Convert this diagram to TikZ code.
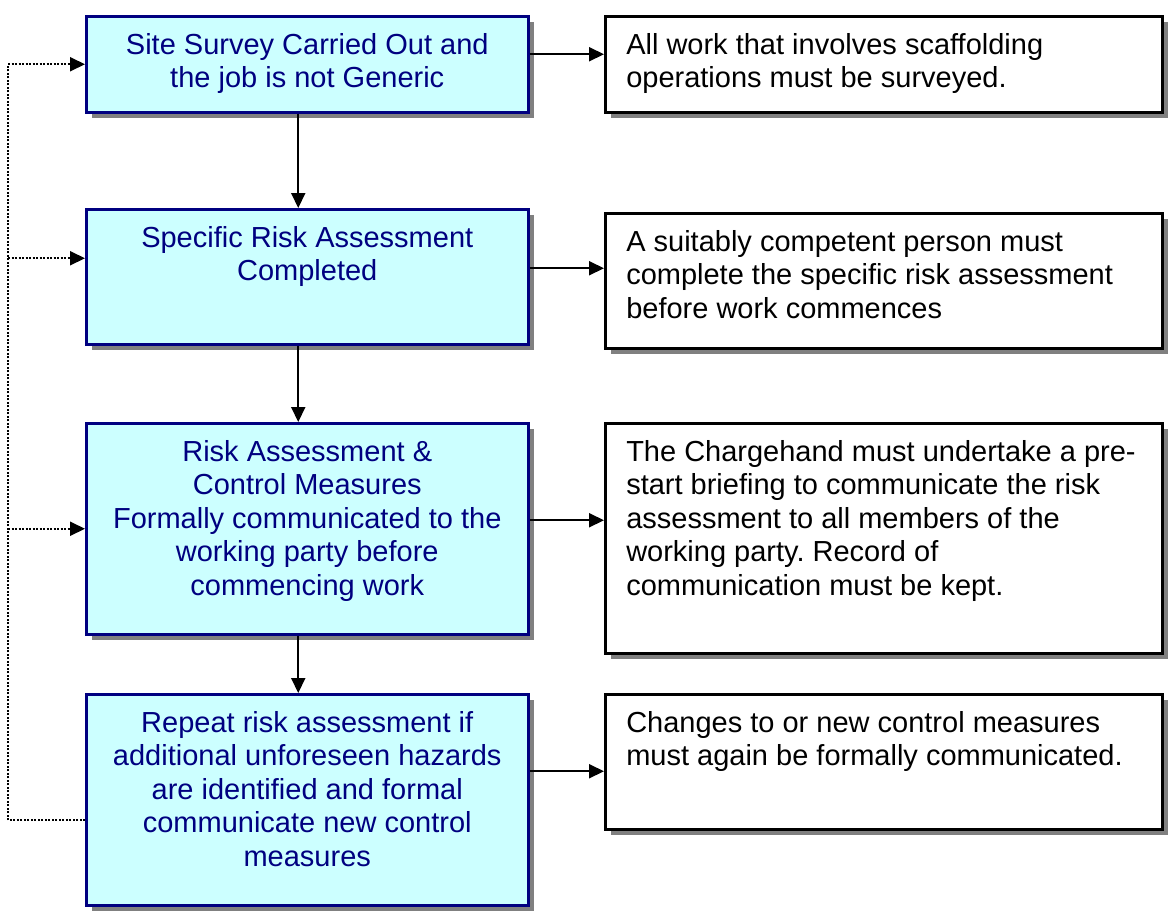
\documentclass[tikz,border=0pt]{standalone}
\usepackage{fontspec}
\setmainfont{Liberation Sans}
\usetikzlibrary{arrows.meta,shadows}
\frenchspacing

\definecolor{stagefill}{HTML}{CCFFFF}
\definecolor{stageline}{HTML}{000080}
\definecolor{shadowgrey}{HTML}{808080}

% box contents, top aligned in a box of fixed height
\newcommand{\stagetext}[2]{\begin{minipage}[c][#1][t]{442pt}\centering\vspace*{14.5pt}\strut#2\end{minipage}}
\newcommand{\notetext}[2]{\begin{minipage}[c][#1][t]{557pt}\raggedright\leftskip=21pt\vspace*{14.5pt}\strut#2\end{minipage}}

\begin{document}
\begin{tikzpicture}[x=1pt, y=-1pt]
\tikzset{
  stagebox/.style={draw=stageline, line width=2.5pt, fill=stagefill, text=stageline,
    inner sep=0pt, anchor=north west, font=\fontsize{29pt}{33.5pt}\selectfont,
    drop shadow={shadow xshift=6pt, shadow yshift=-6pt, fill=shadowgrey, opacity=1}},
  notebox/.style={stagebox, draw=black, fill=white, text=black},
  tip/.style={-{Triangle[length=15pt, width=14pt]}},
  arr/.style={tip, line width=2pt},
  loopline/.style={line width=2pt, dash pattern=on 2pt off 1.5pt},
}
\useasboundingbox (0,0) rectangle (1168,911);

% left column
\node[stagebox] (b1) at (85,15) {\stagetext{96pt}{Site Survey Carried Out and\\the job is not Generic}};
\node[stagebox] (b2) at (85,208) {\stagetext{135pt}{Specific Risk Assessment\\Completed}};
\node[stagebox] (b3) at (85,422) {\stagetext{211pt}{Risk Assessment \&\\Control Measures\\Formally communicated to the\\working party before\\commencing work}};
\node[stagebox] (b4) at (85,693) {\stagetext{211pt}{Repeat risk assessment if\\additional unforeseen hazards\\are identified and formal\\communicate new control\\measures}};

% right column
\node[notebox] (r1) at (604,15) {\notetext{96pt}{All work that involves scaffolding\\operations must be surveyed.}};
\node[notebox] (r2) at (604,212) {\notetext{135pt}{A suitably competent person must\\complete the specific risk assessment\\before work commences}};
\node[notebox] (r3) at (604,422) {\notetext{230pt}{The Chargehand must undertake a pre-\\start briefing to communicate the risk\\assessment to all members of the\\working party. Record of\\communication must be kept.}};
\node[notebox] (r4) at (604,693) {\notetext{135pt}{Changes to or new control measures\\must again be formally communicated.}};

% arrows
\coordinate (a1) at ([yshift=10pt]b1.east);
\coordinate (a2) at ([yshift=8.5pt]b2.east);
\coordinate (a3) at ([yshift=8.5pt]b3.east);
\coordinate (a4) at ([yshift=28.5pt]b4.east);
\foreach \i in {1,...,4} {\draw[arr] (a\i) -- (a\i -| r\i.west);}
\foreach \i/\j in {1/2,2/3,3/4} {\draw[arr] ([xshift=-9pt]b\i.south) -- ([xshift=-9pt]b\j.north);}

% dotted loop back
\coordinate (back) at (8,0);
\coordinate (d2) at ([yshift=18.5pt]b2.west);
\coordinate (d4) at ([yshift=-20.5pt]b4.west);
\draw[loopline, tip] (d4) -- (d4 -| back) |- (b1.west);
\draw[loopline, tip] (d2 -| back) -- (d2);
\draw[loopline, tip] (b3.west -| back) -- (b3.west);
\end{tikzpicture}
\end{document}
